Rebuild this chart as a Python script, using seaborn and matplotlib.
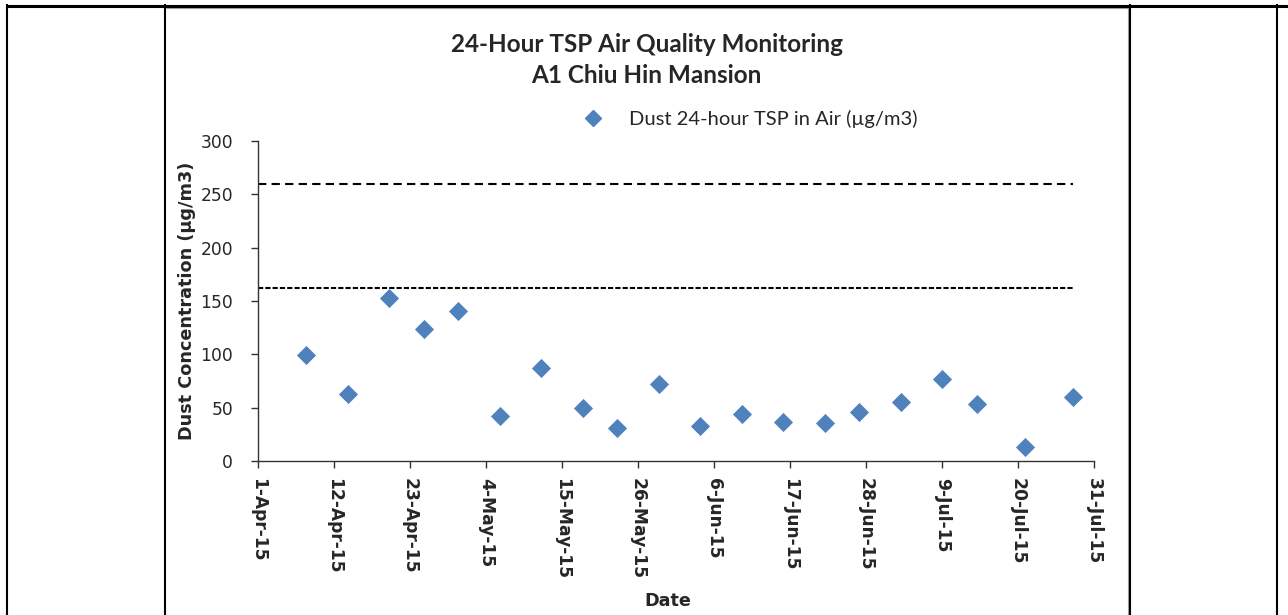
import matplotlib
matplotlib.use('Agg')
import matplotlib.pyplot as plt
import matplotlib.dates as mdates
from matplotlib.lines import Line2D
from matplotlib.ticker import FuncFormatter
import pandas as pd
import seaborn as sns

# 24-hour TSP readings at A1 Chiu Hin Mansion
sample_dates = ['2015-04-08', '2015-04-14', '2015-04-20', '2015-04-25', '2015-04-30',
                '2015-05-06', '2015-05-12', '2015-05-18', '2015-05-23', '2015-05-29',
                '2015-06-04', '2015-06-10', '2015-06-16', '2015-06-22', '2015-06-27',
                '2015-07-03', '2015-07-09', '2015-07-14', '2015-07-21', '2015-07-28']
tsp_values = [99, 63, 153, 124, 141, 42, 87, 50, 31, 72,
              33, 44, 37, 36, 46, 55, 77, 53, 13, 60]

# limit / action level lines
level_dates = ['2015-04-01', '2015-07-28']
limit_level = [260, 260]
action_level = [162, 162]

tick_dates = pd.date_range('2015-04-01', '2015-07-31', freq='11D')
y_ticks = [0, 50, 100, 150, 200, 250, 300]

df = pd.DataFrame({'date': pd.to_datetime(sample_dates), 'tsp': tsp_values})
levels = pd.DataFrame({'date': pd.to_datetime(level_dates),
                       'limit': limit_level, 'action': action_level})

sns.set_style('white')
plt.rcParams['font.family'] = ['DejaVu Sans']

fig = plt.figure(figsize=(12.88, 6.15), dpi=100)
ax = fig.add_axes([258 / 1288, 1 - 461 / 615, (1094 - 258) / 1288, 320 / 615])

blue = '#4F81BD'
sns.scatterplot(data=df, x='date', y='tsp', marker='D', s=95, color=blue,
                linewidth=0, ax=ax, legend=False)
sns.lineplot(data=levels, x='date', y='limit', color='black', lw=1.5,
             linestyle=(0, (4, 2.5)), ax=ax)
sns.lineplot(data=levels, x='date', y='action', color='black', lw=1.5,
             linestyle=(0, (2.5, 1)), ax=ax)

ax.set_xlim(tick_dates[0], tick_dates[-1])
ax.set_ylim(0, 300)
ax.set_xticks(tick_dates)
ax.set_yticks(y_ticks)
ax.xaxis.set_major_formatter(FuncFormatter(
    lambda v, p: f"{mdates.num2date(v).day}-{mdates.num2date(v).strftime('%b-%y')}"))

for s in ['top', 'right']:
    ax.spines[s].set_visible(False)
for s in ['left', 'bottom']:
    ax.spines[s].set_color('#333333')
    ax.spines[s].set_linewidth(1)

ax.tick_params(axis='y', direction='out', length=5, width=1, color='#333333',
               pad=13, labelsize=12.3, left=True)
ax.tick_params(axis='x', direction='out', length=5, width=1, color='#333333',
               pad=7, labelsize=12.3, bottom=True)
for lbl in ax.get_xticklabels():
    lbl.set_rotation(-90)
    lbl.set_fontweight('bold')

ax.set_ylabel('Dust Concentration (µg/m3)', fontsize=12.7, fontweight='bold', labelpad=3)
ax.set_xlabel('Date', fontsize=12.7, fontweight='bold')
ax.xaxis.set_label_coords(0.49, -0.41)

fig.text(0.502, 1 - 60 / 615, '24-Hour TSP Air Quality Monitoring\nA1 Chiu Hin Mansion',
         ha='center', va='center', fontsize=17.5, fontweight='bold',
         family=['Lato', 'DejaVu Sans'], linespacing=1.45)

handle = Line2D([], [], marker='D', linestyle='none', color=blue, markersize=8)
fig.legend([handle], ['Dust 24-hour TSP in Air (µg/m3)'], loc='center left',
           bbox_to_anchor=(583 / 1288, 1 - 119 / 615), frameon=False, borderpad=0,
           borderaxespad=0, handlelength=1.0, handletextpad=1.3,
           prop={'family': ['Lato', 'DejaVu Sans'], 'size': 14.5})

# table frame around the chart
def fline(x0, y0, x1, y1, lw, color='black'):
    fig.add_artist(Line2D([x0 / 1288, x1 / 1288], [1 - y0 / 615, 1 - y1 / 615],
                          lw=lw, color=color, solid_capstyle='butt'))

fline(166, 7.5, 1129, 7.5, 0.8, '#a0a0a0')
fline(1128, 7, 1128, 615, 0.8, '#a0a0a0')
fline(6, 5.5, 1288, 5.5, 2.2)
fline(7, 4, 7, 615, 1.5)
fline(165, 4, 165, 615, 1.5)
fline(1130, 4, 1130, 615, 1.5)
fline(1277, 4, 1277, 615, 1.5)

fig.savefig('out.png', dpi=100)
